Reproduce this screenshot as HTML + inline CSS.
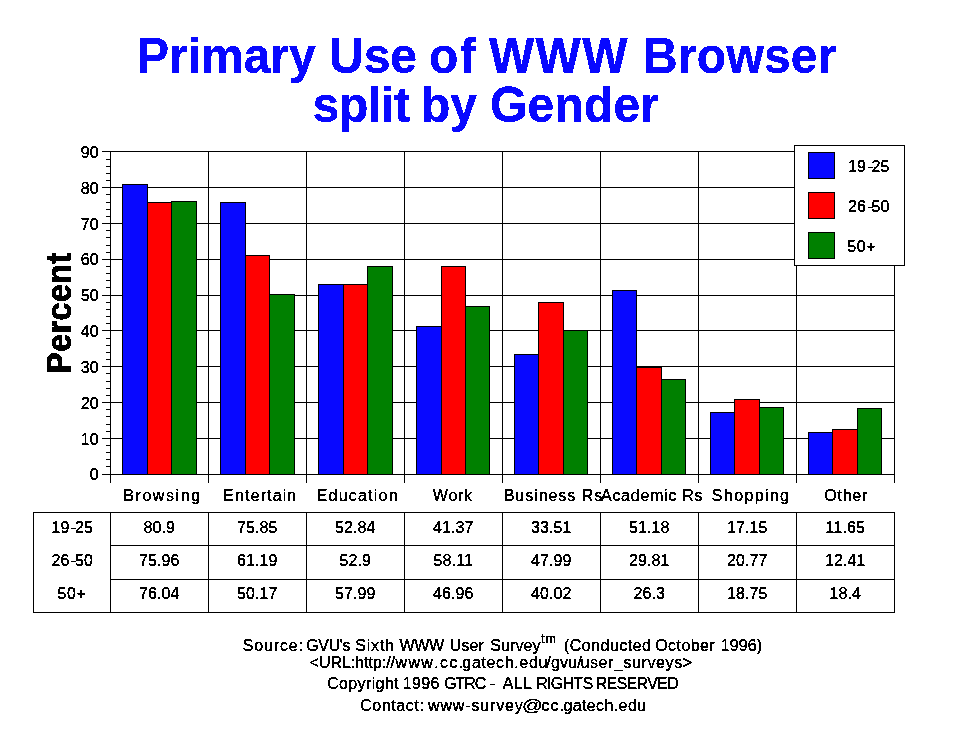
<!DOCTYPE html>
<html lang="en"><head><meta charset="utf-8"><title>Primary Use of WWW Browser split by Gender</title>
<style>html,body{margin:0;padding:0;background:#fff}body{width:970px;height:736px;overflow:hidden}svg{display:block}text{font-family:"Liberation Sans",Arial,Helvetica,sans-serif;fill:#000}.t{font-size:16px}.k{font-kerning:none}.n{letter-spacing:.12px}.c{text-anchor:middle}.l rect,.l{fill:#000}</style></head><body>
<svg width="970" height="736" viewBox="0 0 970 736" shape-rendering="crispEdges">
<rect width="970" height="736" fill="#fff"/>
<defs><filter id="al" x="0" y="0" width="100%" height="100%" filterUnits="userSpaceOnUse" color-interpolation-filters="sRGB"><feComponentTransfer><feFuncA type="discrete" tableValues="0 1 1 1"/></feComponentTransfer></filter></defs>
<g font-weight="bold" font-size="48px" style="fill:#0808ff" filter="url(#al)">
<text x="137" y="0" transform="translate(0,73) scale(1,1.06)" style="fill:#0808ff">Primary</text>
<text x="329" y="0" transform="translate(0,73) scale(1,1.06)" style="fill:#0808ff">Use</text>
<text x="429" y="0" transform="translate(0,73) scale(1,1.06)" textLength="47" lengthAdjust="spacing" style="fill:#0808ff">of</text>
<text x="489" y="0" transform="translate(0,73) scale(1,1.06)" textLength="138.5" lengthAdjust="spacing" style="fill:#0808ff">WWW</text>
<text x="643" y="0" transform="translate(0,73) scale(1,1.06)" textLength="193.5" lengthAdjust="spacing" style="fill:#0808ff">Browser</text>
<text x="312.5" y="0" transform="translate(0,122) scale(1,1.06)" textLength="97.5" lengthAdjust="spacing" style="fill:#0808ff">split</text>
<text x="421" y="0" transform="translate(0,122) scale(1,1.06)" style="fill:#0808ff">by</text>
<text x="490" y="0" transform="translate(0,122) scale(1,1.06)" textLength="169" lengthAdjust="spacing" style="fill:#0808ff">Gender</text>
</g>
<g class="l">
<rect x="102" y="474" width="793" height="1"/>
<rect x="102" y="438" width="793" height="1"/>
<rect x="102" y="402" width="793" height="1"/>
<rect x="102" y="366" width="793" height="1"/>
<rect x="102" y="330" width="793" height="1"/>
<rect x="102" y="295" width="793" height="1"/>
<rect x="102" y="259" width="793" height="1"/>
<rect x="102" y="223" width="793" height="1"/>
<rect x="102" y="187" width="793" height="1"/>
<rect x="102" y="151" width="793" height="1"/>
<rect x="106" y="466" width="5" height="1"/>
<rect x="106" y="459" width="5" height="1"/>
<rect x="106" y="452" width="5" height="1"/>
<rect x="106" y="445" width="5" height="1"/>
<rect x="106" y="431" width="5" height="1"/>
<rect x="106" y="424" width="5" height="1"/>
<rect x="106" y="416" width="5" height="1"/>
<rect x="106" y="409" width="5" height="1"/>
<rect x="106" y="395" width="5" height="1"/>
<rect x="106" y="388" width="5" height="1"/>
<rect x="106" y="381" width="5" height="1"/>
<rect x="106" y="373" width="5" height="1"/>
<rect x="106" y="359" width="5" height="1"/>
<rect x="106" y="352" width="5" height="1"/>
<rect x="106" y="345" width="5" height="1"/>
<rect x="106" y="338" width="5" height="1"/>
<rect x="106" y="323" width="5" height="1"/>
<rect x="106" y="316" width="5" height="1"/>
<rect x="106" y="309" width="5" height="1"/>
<rect x="106" y="302" width="5" height="1"/>
<rect x="106" y="287" width="5" height="1"/>
<rect x="106" y="280" width="5" height="1"/>
<rect x="106" y="273" width="5" height="1"/>
<rect x="106" y="266" width="5" height="1"/>
<rect x="106" y="252" width="5" height="1"/>
<rect x="106" y="245" width="5" height="1"/>
<rect x="106" y="237" width="5" height="1"/>
<rect x="106" y="230" width="5" height="1"/>
<rect x="106" y="216" width="5" height="1"/>
<rect x="106" y="209" width="5" height="1"/>
<rect x="106" y="202" width="5" height="1"/>
<rect x="106" y="194" width="5" height="1"/>
<rect x="106" y="180" width="5" height="1"/>
<rect x="106" y="173" width="5" height="1"/>
<rect x="106" y="166" width="5" height="1"/>
<rect x="106" y="159" width="5" height="1"/>
<rect x="110" y="151" width="1" height="332"/>
<rect x="208" y="151" width="1" height="332"/>
<rect x="306" y="151" width="1" height="332"/>
<rect x="404" y="151" width="1" height="332"/>
<rect x="502" y="151" width="1" height="332"/>
<rect x="600" y="151" width="1" height="332"/>
<rect x="698" y="151" width="1" height="332"/>
<rect x="796" y="151" width="1" height="332"/>
<rect x="894" y="151" width="1" height="332"/>
</g>
<rect x="122" y="184" width="26" height="291" fill="#000"/>
<rect x="123" y="185" width="24" height="289" fill="#0808ff"/>
<rect x="147" y="202" width="25" height="273" fill="#000"/>
<rect x="148" y="203" width="23" height="271" fill="#ff0000"/>
<rect x="171" y="201" width="26" height="274" fill="#000"/>
<rect x="172" y="202" width="24" height="272" fill="#008000"/>
<rect x="220" y="202" width="26" height="273" fill="#000"/>
<rect x="221" y="203" width="24" height="271" fill="#0808ff"/>
<rect x="245" y="255" width="25" height="220" fill="#000"/>
<rect x="246" y="256" width="23" height="218" fill="#ff0000"/>
<rect x="269" y="294" width="26" height="181" fill="#000"/>
<rect x="270" y="295" width="24" height="179" fill="#008000"/>
<rect x="318" y="284" width="26" height="191" fill="#000"/>
<rect x="319" y="285" width="24" height="189" fill="#0808ff"/>
<rect x="343" y="284" width="25" height="191" fill="#000"/>
<rect x="344" y="285" width="23" height="189" fill="#ff0000"/>
<rect x="367" y="266" width="26" height="209" fill="#000"/>
<rect x="368" y="267" width="24" height="207" fill="#008000"/>
<rect x="416" y="326" width="26" height="149" fill="#000"/>
<rect x="417" y="327" width="24" height="147" fill="#0808ff"/>
<rect x="441" y="266" width="25" height="209" fill="#000"/>
<rect x="442" y="267" width="23" height="207" fill="#ff0000"/>
<rect x="465" y="306" width="25" height="169" fill="#000"/>
<rect x="466" y="307" width="23" height="167" fill="#008000"/>
<rect x="514" y="354" width="25" height="121" fill="#000"/>
<rect x="515" y="355" width="23" height="119" fill="#0808ff"/>
<rect x="538" y="302" width="26" height="173" fill="#000"/>
<rect x="539" y="303" width="24" height="171" fill="#ff0000"/>
<rect x="563" y="330" width="25" height="145" fill="#000"/>
<rect x="564" y="331" width="23" height="143" fill="#008000"/>
<rect x="612" y="290" width="25" height="185" fill="#000"/>
<rect x="613" y="291" width="23" height="183" fill="#0808ff"/>
<rect x="636" y="367" width="26" height="108" fill="#000"/>
<rect x="637" y="368" width="24" height="106" fill="#ff0000"/>
<rect x="661" y="379" width="25" height="96" fill="#000"/>
<rect x="662" y="380" width="23" height="94" fill="#008000"/>
<rect x="710" y="412" width="25" height="63" fill="#000"/>
<rect x="711" y="413" width="23" height="61" fill="#0808ff"/>
<rect x="734" y="399" width="26" height="76" fill="#000"/>
<rect x="735" y="400" width="24" height="74" fill="#ff0000"/>
<rect x="759" y="407" width="25" height="68" fill="#000"/>
<rect x="760" y="408" width="23" height="66" fill="#008000"/>
<rect x="808" y="432" width="25" height="43" fill="#000"/>
<rect x="809" y="433" width="23" height="41" fill="#0808ff"/>
<rect x="832" y="429" width="26" height="46" fill="#000"/>
<rect x="833" y="430" width="24" height="44" fill="#ff0000"/>
<rect x="857" y="408" width="25" height="67" fill="#000"/>
<rect x="858" y="409" width="23" height="65" fill="#008000"/>
<g class="t n" text-anchor="end" filter="url(#al)">
<text x="98.8" y="480">0</text>
<text x="98.8" y="445">10</text>
<text x="98.8" y="409">20</text>
<text x="98.8" y="373">30</text>
<text x="98.8" y="337">40</text>
<text x="98.8" y="301">50</text>
<text x="98.8" y="265">60</text>
<text x="98.8" y="230">70</text>
<text x="98.8" y="194">80</text>
<text x="98.8" y="158">90</text>
</g>
<g filter="url(#al)"><text transform="translate(70.9,313.3) rotate(-90) scale(1,1.09)" text-anchor="middle" font-weight="bold" font-size="32px" stroke="#000" stroke-width="0.3" textLength="120.8" lengthAdjust="spacing">Percent</text></g>
<g class="l">
<rect x="794" y="145" width="111" height="121" fill="#000"/><rect x="795" y="146" width="109" height="119" style="fill:#fff"/>
<rect x="808" y="152" width="27" height="27"/><rect x="809" y="153" width="25" height="25" style="fill:#0808ff"/>
<rect x="808" y="192" width="27" height="27"/><rect x="809" y="193" width="25" height="25" style="fill:#ff0000"/>
<rect x="808" y="232" width="27" height="27"/><rect x="809" y="233" width="25" height="25" style="fill:#008000"/>
</g>
<g class="t n" filter="url(#al)">
<text x="848" y="172">19<tspan dx="1.6">-</tspan><tspan dx="-1.6">25</tspan></text>
<text x="848" y="212">26<tspan dx="1.6">-</tspan><tspan dx="-1.6">50</tspan></text>
<text x="847.3" style="letter-spacing:.6px" y="252">50+</text>
</g>
<g class="t k" filter="url(#al)">
<text x="123.29" y="501" style="letter-spacing:1.563px">Browsing</text>
<text x="223.29" y="501" style="letter-spacing:1.114px">Entertain</text>
<text x="316.69" y="501" style="letter-spacing:1.211px">Education</text>
<text x="432.73" y="501" style="letter-spacing:0.640px">Work</text>
<text x="503.69" y="501" style="letter-spacing:0.957px">Business Rs</text>
<text x="600.97" y="501" style="letter-spacing:0.736px">Academic Rs</text>
<text x="711.87" y="501" style="letter-spacing:1.363px">Shopping</text>
<text x="824.24" y="501" style="letter-spacing:0.752px">Other</text>
</g>
<g class="l">
<rect x="33" y="512" width="862" height="1"/>
<rect x="33" y="612" width="862" height="1"/>
<rect x="110" y="545" width="785" height="1"/>
<rect x="110" y="579" width="785" height="1"/>
<rect x="33" y="512" width="1" height="101"/>
<rect x="110" y="512" width="1" height="101"/>
<rect x="208" y="512" width="1" height="101"/>
<rect x="306" y="512" width="1" height="101"/>
<rect x="404" y="512" width="1" height="101"/>
<rect x="502" y="512" width="1" height="101"/>
<rect x="600" y="512" width="1" height="101"/>
<rect x="698" y="512" width="1" height="101"/>
<rect x="796" y="512" width="1" height="101"/>
<rect x="894" y="512" width="1" height="101"/>
</g>
<g class="t c n" filter="url(#al)">
<text x="72.2" y="533">19<tspan dx="1.6">-</tspan><tspan dx="-1.6">25</tspan></text>
<text x="159.3" y="533">80.9</text>
<text x="257.3" y="533">75.85</text>
<text x="355.3" y="533">52.84</text>
<text x="453.3" y="533">41.37</text>
<text x="551.3" y="533">33.51</text>
<text x="649.3" y="533">51.18</text>
<text x="747.3" y="533">17.15</text>
<text x="845.3" y="533">11.65</text>
<text x="72.2" y="566">26<tspan dx="1.6">-</tspan><tspan dx="-1.6">50</tspan></text>
<text x="159.3" y="566">75.96</text>
<text x="257.3" y="566">61.19</text>
<text x="355.3" y="566">52.9</text>
<text x="453.3" y="566">58.11</text>
<text x="551.3" y="566">47.99</text>
<text x="649.3" y="566">29.81</text>
<text x="747.3" y="566">20.77</text>
<text x="845.3" y="566">12.41</text>
<text x="71.9" style="letter-spacing:.6px" y="599">50+</text>
<text x="159.3" y="599">76.04</text>
<text x="257.3" y="599">50.17</text>
<text x="355.3" y="599">57.99</text>
<text x="453.3" y="599">46.96</text>
<text x="551.3" y="599">40.02</text>
<text x="649.3" y="599">26.3</text>
<text x="747.3" y="599">18.75</text>
<text x="845.3" y="599">18.4</text>
</g>
<g class="t k" filter="url(#al)">
<text x="242.87" y="651" style="letter-spacing:0.824px">Source:</text>
<text x="306.20" y="651" style="letter-spacing:-0.336px">GVU&#x27;s</text>
<text x="355.27" y="651" style="letter-spacing:0.799px">Sixth</text>
<text x="399.53" y="651" style="letter-spacing:-0.390px">WWW</text>
<text x="449.77" y="651" style="letter-spacing:0.106px">User</text>
<text x="490.27" y="651" style="letter-spacing:0.072px">Survey</text>
<text x="564.01" y="651" style="letter-spacing:0.478px">(Conducted</text>
<text x="655.24" y="651" style="letter-spacing:0.418px">October</text>
<text x="720.78" y="651" style="letter-spacing:0.122px">1996)</text>
<text x="309.71" y="668" style="letter-spacing:-0.048px">&lt;URL:http://</text>
<text x="395.62" y="668" style="letter-spacing:1.297px">www.cc.</text>
<text x="462.33" y="668" style="letter-spacing:0.651px">gatech.edu</text>
<text x="546.30" y="668" style="letter-spacing:0.203px">/gvu/</text>
<text x="580.46" y="668" style="letter-spacing:0.594px">user_surveys&gt;</text>
<text x="327.19" y="689" style="letter-spacing:0.357px">Copyright</text>
<text x="402.78" y="689" style="letter-spacing:0.309px">1996</text>
<text x="444.20" y="689" style="letter-spacing:-1.105px">GTRC</text>
<text x="489.99" y="689" style="letter-spacing:0.000px">-</text>
<text x="502.87" y="689" style="letter-spacing:0.247px">ALL</text>
<text x="536.19" y="689" style="letter-spacing:-0.700px">RIGHTS</text>
<text x="595.69" y="689" style="letter-spacing:-0.706px">RESERVED</text>
<text x="360.19" y="711" style="letter-spacing:0.584px">Contact:</text>
<text x="428.02" y="711" style="letter-spacing:0.843px">www-survey</text>
<text x="541.22" y="711" style="letter-spacing:1.398px">cc.</text>
<text x="563.43" y="711" style="letter-spacing:0.384px">gatech.edu</text>
<text transform="translate(521.88,711) scale(1.287,1)">@</text>
<text x="541.22" y="643" style="font-size:12px;letter-spacing:1.243px">tm</text>
</g>
</svg></body></html>
